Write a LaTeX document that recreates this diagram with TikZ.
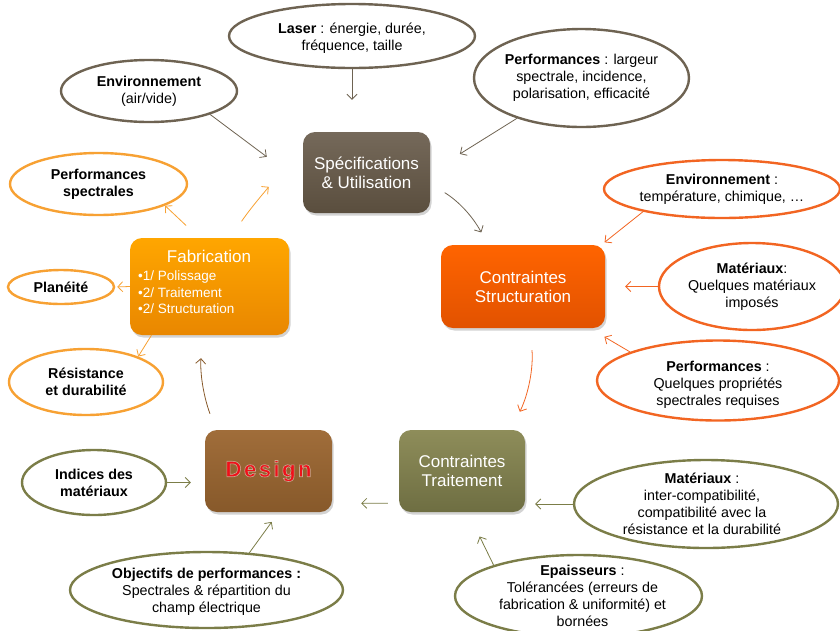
\documentclass[tikz,border=0pt]{standalone}
\usepackage{fontspec}
\setmainfont{Liberation Sans}
\newfontfamily\designfont[LetterSpace=10]{Liberation Sans}
\usetikzlibrary{shapes.geometric,arrows.meta,shadows,calc}
\definecolor{specC}{HTML}{6E6352}
\definecolor{specTop}{HTML}{75695A}
\definecolor{specBot}{HTML}{5A4E3E}
\definecolor{strTop}{HTML}{FF6400}
\definecolor{strBot}{HTML}{E25200}
\definecolor{strC}{HTML}{F26522}
\definecolor{trTop}{HTML}{8E8D5A}
\definecolor{trBot}{HTML}{6E6E42}
\definecolor{olC}{HTML}{7B7D48}
\definecolor{deTop}{HTML}{A06D3A}
\definecolor{deBot}{HTML}{87592A}
\definecolor{faTop}{HTML}{FFA600}
\definecolor{faBot}{HTML}{E98700}
\definecolor{faC}{HTML}{F7A133}
\definecolor{deRed}{HTML}{F0101A}
\newcommand{\glowtext}[1]{\special{pdf:literal direct 2 Tr 0.6 w 0.78 0.66 0.56 RG}#1\special{pdf:literal direct 0 Tr}}
\begin{document}
\begin{tikzpicture}[x=1pt,y=-1pt,
  box/.style={rounded corners=12pt, draw=none, text=white, font=\fontsize{17}{19}\selectfont, align=center,
     drop shadow={shadow xshift=1.5pt, shadow yshift=-2.5pt, opacity=0.35}},
  ell/.style={ellipse, draw, line width=2.4pt, fill=white, inner sep=0pt},
  lbl/.style={font=\fontsize{14.3}{16.8}\selectfont, align=center, text=black},
  arr/.style={-{Straight Barb[length=5pt,width=10pt]}, line width=0.8pt}]
\useasboundingbox (0,0) rectangle (840,630);
\clip (0,0) rectangle (840,630);

% main boxes
\node[box, top color=specTop, bottom color=specBot, minimum width=127, minimum height=81] (spec) at (366.5,172.5) {Spécifications\\\& Utilisation};
\node[box, top color=strTop, bottom color=strBot, minimum width=164, minimum height=83] (struct) at (523,286.5) {Contraintes\\Structuration};
\node[box, top color=trTop, bottom color=trBot, minimum width=126, minimum height=82] (trait) at (462,471) {Contraintes\\Traitement};
\node[box, top color=deTop, bottom color=deBot, minimum width=127, minimum height=82, text=deRed] (design) at (268.5,471)
  {\designfont\bfseries\fontsize{22.5}{25}\selectfont\glowtext{Design}};
\node[box, top color=faTop, bottom color=faBot, minimum width=159, minimum height=97] (fab) at (209.5,286.5) {};
\node[font=\fontsize{17}{19}\selectfont, text=white] (fabT) at (209,256) {Fabrication};
\node[font=\fontsize{13.5}{16.5}\selectfont, text=white, align=left, anchor=north west, inner sep=0pt] (fabL) at (138,271)
  {•1/ Polissage\\•2/ Traitement\\•2/ Structuration};

% ellipses
\node[ell, draw=specC, minimum width=246, minimum height=64, label={[lbl,yshift=-2pt]center:{\textbf{Laser} : énergie, durée,\\fréquence, taille}}] (laser) at (352,36) {};
\node[ell, draw=specC, minimum width=215, minimum height=98, label={[lbl]center:{\textbf{Performances} : largeur\\spectrale, incidence,\\polarisation, efficacité}}] (perfT) at (581.5,78) {};
\node[ell, draw=specC, minimum width=176, minimum height=62, label={[lbl]center:{\textbf{Environnement}\\(air/vide)}}] (envA) at (149,91) {};
\node[ell, draw=faC, minimum width=177, minimum height=62, label={[lbl]center:{\textbf{Performances}\\\textbf{spectrales}}}] (perfS) at (98.5,184) {};
\node[ell, draw=faC, minimum width=106, minimum height=34, label={[lbl]center:{\textbf{Planéité}}}] (plan) at (61,287) {};
\node[ell, draw=faC, minimum width=154, minimum height=66, label={[lbl]center:{\textbf{Résistance}\\\textbf{et durabilité}}}] (resist) at (86,382) {};
\node[ell, draw=olC, minimum width=144, minimum height=65, label={[lbl]center:{\textbf{Indices des}\\\textbf{matériaux}}}] (indices) at (94,482.5) {};
\node[ell, draw=olC, minimum width=273, minimum height=76, label={[lbl,yshift=-2pt]center:{\textbf{Objectifs de performances :}\\Spectrales \& répartition du\\champ électrique}}] (obj) at (206.5,590) {};
\node[ell, draw=strC, minimum width=236, minimum height=58, label={[lbl]center:{\textbf{Environnement} :\\température, chimique, …}}] (envT) at (722,189) {};
\node[ell, draw=strC, minimum width=186, minimum height=87, label={[lbl]center:{\textbf{Matériaux}:\\Quelques matériaux\\imposés}}] (matS) at (752,286.5) {};
\node[ell, draw=strC, minimum width=242, minimum height=80, label={[lbl,yshift=-4pt]center:{\textbf{Performances} :\\Quelques propriétés\\spectrales requises}}] (perfR) at (718,380.5) {};
\node[ell, draw=olC, minimum width=264, minimum height=88, label={[lbl,xshift=-4pt]center:{\textbf{Matériaux} :\\inter-compatibilité,\\compatibilité avec la\\résistance et la durabilité}}] (matT) at (706,504) {};
\node[ell, draw=olC, minimum width=247, minimum height=82, label={[lbl,xshift=4pt]center:{\textbf{Epaisseurs} :\\Tolérancées (erreurs de\\fabrication \& uniformité) et\\bornées}}] (epa) at (578.5,596) {};

% cycle arrows
\draw[arr, specC, shorten <=17pt, shorten >=14pt] (spec.-10) to[bend left=15] (struct.130);
\draw[arr, strC, shorten <=22pt, shorten >=20pt] (struct.-80) to[bend left=15] (trait.40);
\draw[arr, olC, shorten <=11pt, shorten >=29pt] (trait.207) -- (design.-27);
\draw[arr, deBot, shorten <=17pt, shorten >=23pt] (design.142) to[bend left=12] (fab.-98);
\draw[arr, faC, shorten <=20pt, shorten >=44pt] (fab.67) to[bend left=8] (spec.168);

% satellite arrows
\draw[arr, specC, shorten >=32pt] (laser.south) -- (laser.south |- spec.north);
\draw[arr, specC, shorten >=35pt] (perfT) -- (spec.east);
\draw[arr, specC, shorten >=45pt] (envA.-21) -- (spec.190);
\draw[arr, faC, shorten <=18pt] (fab.102) -- (perfS.-18);
\draw[arr, faC, shorten >=2pt] (fab.west) -- (plan.east);
\draw[arr, faC] (fab.-140) -- (resist.26);
\draw[arr, olC, shorten >=14pt] (indices.east) -- (indices.east -| design.west);
\draw[arr, olC, shorten >=12pt] (obj.41) -- (design.-76);
\draw[arr, strC, shorten >=4pt] (envT.196) -- (struct.28);
\draw[arr, strC, shorten >=20pt] (matS.west) -- (struct.east);
\draw[arr, strC, shorten >=17pt] (perfR.162) -- (struct.-32);
\draw[arr, olC, shorten >=10pt] (matT.west) -- (matT.west -| trait.east);
\draw[arr, olC, shorten >=27pt] (epa.160) -- (trait.-82);
\end{tikzpicture}
\end{document}
